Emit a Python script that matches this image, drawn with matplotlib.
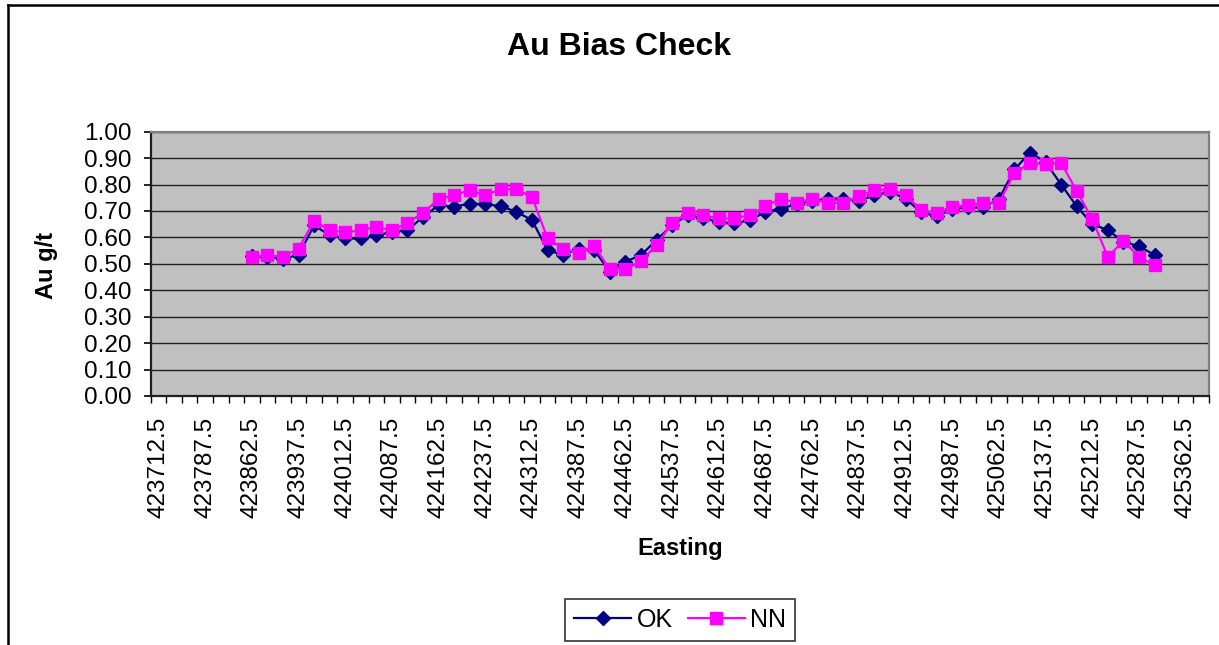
import numpy as np
import matplotlib
matplotlib.use("Agg")
import matplotlib.pyplot as plt
from matplotlib.lines import Line2D

plt.rcParams['font.family'] = ['Liberation Sans', 'DejaVu Sans']

# Category axis (Easting)
eastings = [
    423712.5, 423737.5, 423762.5, 423787.5, 423812.5, 423837.5, 423862.5, 423887.5,
    423912.5, 423937.5, 423962.5, 423987.5, 424012.5, 424037.5, 424062.5, 424087.5,
    424112.5, 424137.5, 424162.5, 424187.5, 424212.5, 424237.5, 424262.5, 424287.5,
    424312.5, 424337.5, 424362.5, 424387.5, 424412.5, 424437.5, 424462.5, 424487.5,
    424512.5, 424537.5, 424562.5, 424587.5, 424612.5, 424637.5, 424662.5, 424687.5,
    424712.5, 424737.5, 424762.5, 424787.5, 424812.5, 424837.5, 424862.5, 424887.5,
    424912.5, 424937.5, 424962.5, 424987.5, 425012.5, 425037.5, 425062.5, 425087.5,
    425112.5, 425137.5, 425162.5, 425187.5, 425212.5, 425237.5, 425262.5, 425287.5,
    425312.5, 425337.5, 425362.5, 425387.5,
]
nan = np.nan
ok_values = [
    nan, nan, nan, nan, nan, nan,
    0.530, 0.527, 0.520, 0.533, 0.646, 0.608, 0.596, 0.596, 0.608, 0.620,
    0.627, 0.678, 0.722, 0.716, 0.728, 0.726, 0.718, 0.697, 0.665, 0.552,
    0.533, 0.558, 0.552, 0.470, 0.508, 0.533, 0.590, 0.646, 0.684, 0.672,
    0.659, 0.653, 0.665, 0.697, 0.709, 0.726, 0.738, 0.747, 0.747, 0.738,
    0.760, 0.772, 0.747, 0.695, 0.680, 0.706, 0.714, 0.714, 0.745, 0.857,
    0.921, 0.885, 0.800, 0.718, 0.650, 0.628, 0.583, 0.567, 0.533,
    nan, nan, nan,
]
nn_values = [
    nan, nan, nan, nan, nan, nan,
    0.526, 0.533, 0.526, 0.558, 0.663, 0.627, 0.619, 0.627, 0.640, 0.627,
    0.655, 0.693, 0.745, 0.760, 0.779, 0.760, 0.782, 0.782, 0.753, 0.596,
    0.558, 0.542, 0.567, 0.479, 0.479, 0.511, 0.571, 0.655, 0.693, 0.684,
    0.672, 0.672, 0.684, 0.718, 0.747, 0.731, 0.747, 0.731, 0.731, 0.756,
    0.779, 0.782, 0.762, 0.703, 0.693, 0.716, 0.722, 0.731, 0.731, 0.844,
    0.882, 0.876, 0.882, 0.776, 0.669, 0.526, 0.587, 0.526, 0.495,
    nan, nan, nan,
]
y_ticks = [0.0, 0.1, 0.2, 0.3, 0.4, 0.5, 0.6, 0.7, 0.8, 0.9, 1.0]

W, H = 1219, 645
fig = plt.figure(figsize=(W / 100, H / 100), dpi=100)

ax_l, ax_r, ax_t, ax_b = 150.7, 1209, 131.7, 396
ax = fig.add_axes([ax_l / W, 1 - ax_b / H, (ax_r - ax_l) / W, (ax_b - ax_t) / H])
ax.set_facecolor('#C0C0C0')

x = np.arange(len(eastings))
ax.plot(x, ok_values, color='#000080', lw=1.6, marker='D', ms=7,
        mfc='#000080', mec='#000080', label='OK', zorder=3)
ax.plot(x, nn_values, color='#FF00FF', lw=1.6, marker='s', ms=8.5,
        mfc='#FF00FF', mec='#FF00FF', label='NN', zorder=4)

ax.set_xlim(-0.5, len(eastings) - 0.5)
ax.set_ylim(0, 1.0)

# y axis
ax.set_yticks(y_ticks)
ax.set_yticklabels([f"{v:.2f}" for v in y_ticks])
ax.yaxis.grid(True, color='#202020', lw=1.0)
ax.set_axisbelow(True)
ax.tick_params(axis='y', direction='out', length=5, width=1.2, pad=9,
               labelsize=17.5, colors='black')

# x axis: ticks between categories, labels every third category
ax.set_xticks(np.arange(-0.5, len(eastings), 1.0))
ax.set_xticklabels([])
ax.tick_params(axis='x', which='major', direction='out', length=5, width=1.0)
label_pos = x[::3]
ax.set_xticks(label_pos, minor=True)
ax.set_xticklabels([f"{eastings[i]:.1f}" for i in label_pos], minor=True,
                   rotation=90, fontsize=17.5)
ax.tick_params(axis='x', which='minor', length=0, pad=15)

for side in ['top', 'right']:
    ax.spines[side].set_color('#808080')
    ax.spines[side].set_linewidth(1.6)
for side in ['left', 'bottom']:
    ax.spines[side].set_color('#202020')
    ax.spines[side].set_linewidth(1.6)

# Titles
fig.text(619 / W, 1 - 47 / H, 'Au Bias Check', ha='center', va='center',
         fontsize=23, fontweight='bold')
fig.text(47 / W, 1 - 265 / H, 'Au g/t', ha='center', va='center',
         rotation=90, fontsize=17, fontweight='bold')
fig.text(680 / W, 1 - 548 / H, 'Easting', ha='center', va='center',
         fontsize=17, fontweight='bold')

# Legend
handles = [
    Line2D([], [], color='#000080', lw=1.6, marker='D', ms=7),
    Line2D([], [], color='#FF00FF', lw=1.6, marker='s', ms=8.5),
]
leg = fig.legend(handles, ['OK', 'NN'], loc='center', ncol=2,
                 bbox_to_anchor=(680 / W, 1 - 620 / H), fontsize=18,
                 frameon=True, fancybox=False, edgecolor='black',
                 handlelength=2.3, handletextpad=0.2, columnspacing=0.6,
                 borderpad=0.35, borderaxespad=0)
leg.get_frame().set_linewidth(1.2)

# Outer chart frame
fig.add_artist(Line2D([7.5 / W, 7.5 / W], [0, 1 - 5 / H], transform=fig.transFigure,
                      color='black', lw=1.8))
fig.add_artist(Line2D([7.5 / W, 1.0], [1 - 5 / H, 1 - 5 / H], transform=fig.transFigure,
                      color='black', lw=1.8))

fig.savefig('out.png', dpi=100, facecolor='white')
